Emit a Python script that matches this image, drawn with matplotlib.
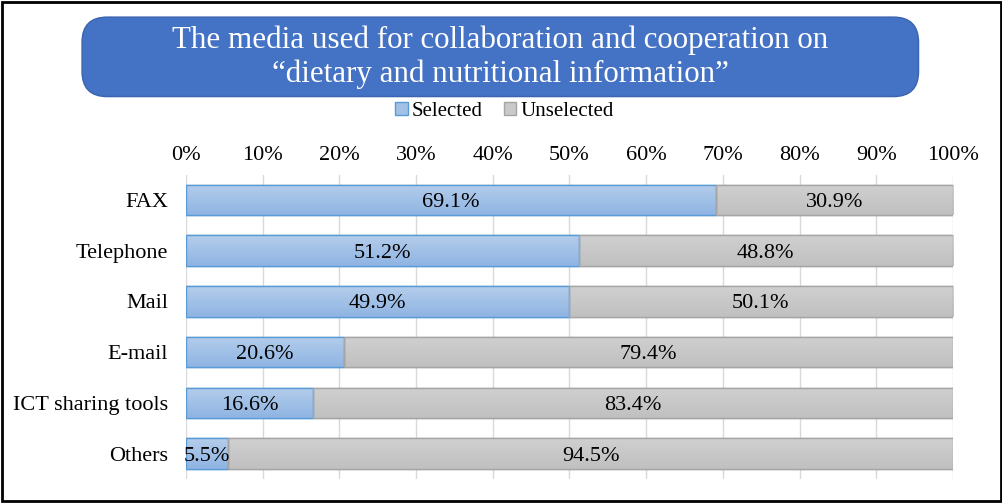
import numpy as np
import matplotlib.pyplot as plt
from matplotlib.patches import FancyBboxPatch, Rectangle
from matplotlib.colors import LinearSegmentedColormap

plt.rcParams['font.family'] = ['Liberation Serif', 'DejaVu Serif']

# Data
categories = ["FAX", "Telephone", "Mail", "E-mail", "ICT sharing tools", "Others"]
selected = [69.1, 51.2, 49.9, 20.6, 16.6, 5.5]
unselected = [30.9, 48.8, 50.1, 79.4, 83.4, 94.5]
ticks = np.arange(0, 101, 10)
title = "The media used for collaboration and cooperation on\n\u201cdietary and nutritional information\u201d"

fig = plt.figure(figsize=(10.03, 5.03), dpi=100)
ax = fig.add_axes([0.1854, 0.0477, 0.7647, 0.6053])

y = np.arange(len(categories))
bh = 0.6
b1 = ax.barh(y, selected, height=bh, color='#A3C1E6', edgecolor='#5B9BD5', linewidth=1, zorder=3)
b2 = ax.barh(y, unselected, left=selected, height=bh, color='#C9C9C9', edgecolor='#A5A5A5', linewidth=1, zorder=3)

# gradient fill clipped to each bar
grad = np.linspace(0, 1, 64).reshape(-1, 1)
for bars, c0, c1 in [(b1, '#B4CDEB', '#8FB4E3'), (b2, '#D0D0D0', '#C0C0C0')]:
    cm = LinearSegmentedColormap.from_list('g', [c0, c1])
    for r in bars:
        x0, y0 = r.get_x(), r.get_y()
        w, h = r.get_width(), r.get_height()
        im = ax.imshow(grad, cmap=cm, aspect='auto', extent=[x0, x0 + w, y0 + h, y0],
                       origin='upper', zorder=3.5)
        im.set_clip_path(r)
        edge = Rectangle((x0, y0), w, h, fill=False, edgecolor=r.get_edgecolor(), linewidth=1, zorder=4)
        ax.add_patch(edge)

for i in range(len(categories)):
    ax.text(selected[i] / 2, y[i], f"{selected[i]:.1f}%", ha='center', va='center_baseline',
            fontsize=16, zorder=5)
    ax.text(selected[i] + unselected[i] / 2, y[i], f"{unselected[i]:.1f}%", ha='center',
            va='center_baseline', fontsize=16, zorder=5)

ax.set_xlim(0, 100)
ax.set_ylim(len(categories) - 0.5, -0.5)
ax.set_yticks(y)
ax.set_yticklabels(categories, fontsize=16)
ax.set_xticks(ticks)
ax.set_xticklabels([f"{t}%" for t in ticks], fontsize=16)
ax.xaxis.tick_top()
ax.tick_params(axis='x', length=0, pad=7)
ax.tick_params(axis='y', length=0, pad=13)
ax.grid(axis='x', color='#D9D9D9', linewidth=1, zorder=0)
ax.set_axisbelow(True)
for s in ax.spines.values():
    s.set_visible(False)

# legend
ax.legend([b1, b2], ["Selected", "Unselected"], loc='center', bbox_to_anchor=(0.503, 0.778),
          bbox_transform=fig.transFigure, ncol=2, frameon=False, fontsize=15,
          handlelength=0.6, handleheight=0.6, handletextpad=0.2, columnspacing=1.0)

# title box
box = FancyBboxPatch((0.0818, 0.808), 0.834, 0.158, boxstyle="round,pad=0,rounding_size=0.025",
                     transform=fig.transFigure, facecolor='#4472C4', edgecolor='#3A64AF', linewidth=1,
                     mutation_aspect=2.0)
fig.patches.append(box)
fig.text(0.499, 0.886, title, ha='center', va='center', color='white', fontsize=22.3, linespacing=1.2)

# outer frame
fig.patches.append(Rectangle((0.002, 0.003), 0.996, 0.994, transform=fig.transFigure,
                             fill=False, edgecolor='black', linewidth=2))

fig.savefig("out.png", dpi=100)
